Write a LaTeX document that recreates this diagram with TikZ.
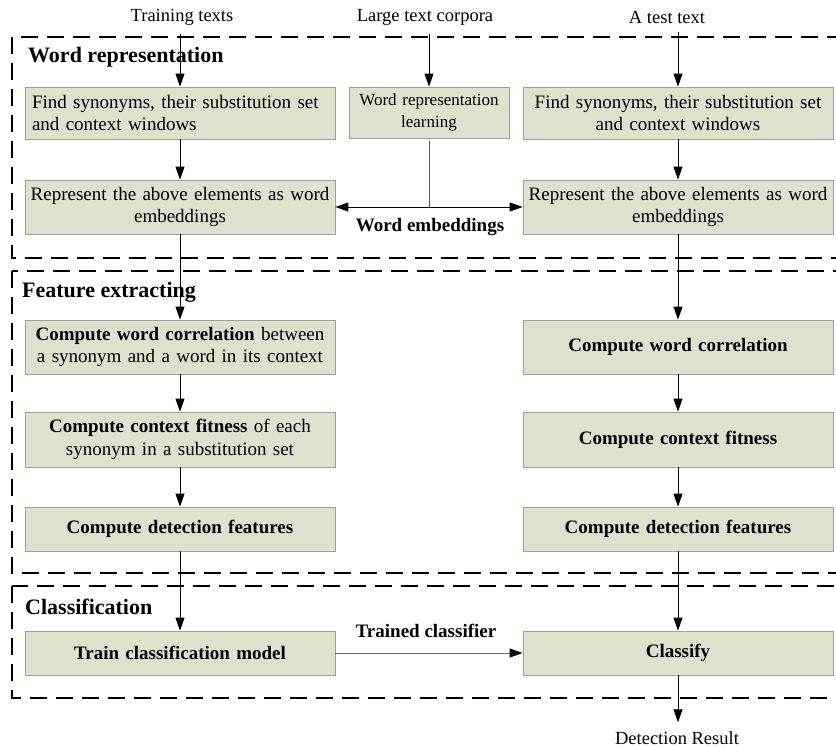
\documentclass[tikz,border=0pt]{standalone}
\usepackage{fontspec}
\setmainfont{Liberation Serif}
\usetikzlibrary{arrows.meta}
\definecolor{boxfill}{RGB}{222,225,205}
\definecolor{boxline}{RGB}{160,160,150}
\begin{document}
\begin{tikzpicture}[x=1pt,y=-1pt,
  box/.style={draw=boxline, line width=0.8pt, fill=boxfill, text width=300pt, inner xsep=5pt, inner ysep=0pt,
    font=\fontsize{19}{22.5}\selectfont, align=center},
  arr/.style={-{Triangle[length=13pt,width=9pt,color=black]}, line width=0.9pt},
  sect/.style={draw, line width=2.4pt, dash pattern=on 17pt off 9pt},
  ttl/.style={font=\fontsize{22}{26}\selectfont\bfseries, anchor=west, inner sep=0pt},
  lbl/.style={font=\fontsize{18.5}{22}\selectfont, inner sep=0pt},
  blbl/.style={font=\fontsize{19}{22}\selectfont\bfseries, inner sep=0pt}]
\clip (0,0) rectangle (836,747);

% dashed section frames
\draw[sect] (12,37) rectangle (870,258);
\draw[sect] (12,271) rectangle (870,573);
\draw[sect] (12,586) rectangle (870,698);

% section titles
\node[ttl] (t1) at (28,57) {Word representation};
\node[ttl] (t2) at (22,292) {Feature extracting};
\node[ttl] (t3) at (25,607) {Classification};

% top inputs
\node[lbl] (tt) at (182,17) {Training texts};
\node[lbl] (ltc) at (425,17) {Large text corpora};
\node[lbl] (tst) at (667,17) {A test text};

% left column
\node[box, text width=296pt, inner xsep=7pt, align=left, minimum height=52pt] (L1) at (180,113) {Find synonyms, their substitution set\\and context windows};
\node[box, minimum height=54pt] (L2) at (180,207) {Represent the above elements as word\\embeddings};
\node[box, minimum height=54pt] (L3) at (180,347) {\textbf{Compute word correlation} between\\a synonym and a word in its context};
\node[box, minimum height=55pt] (L4) at (180,439.5) {\textbf{Compute context fitness} of each\\synonym in a substitution set};
\node[box, minimum height=44pt] (L5) at (180,529) {\textbf{Compute detection features}};
\node[box, minimum height=44pt] (L6) at (180,653) {\textbf{Train classification model}};

% middle
\node[box, text width=150pt, minimum height=51pt, font=\fontsize{17}{22}\selectfont] (M1) at (429,112.5) {Word representation\\learning};

% right column
\node[box, minimum height=52pt] (R1) at (678,113) {Find synonyms, their substitution set\\and context windows};
\node[box, minimum height=54pt] (R2) at (678,207) {Represent the above elements as word\\embeddings};
\node[box, minimum height=54pt] (R3) at (678,347) {\textbf{Compute word correlation}};
\node[box, minimum height=55pt] (R4) at (678,439.5) {\textbf{Compute context fitness}};
\node[box, minimum height=44pt] (R5) at (678,529) {\textbf{Compute detection features}};
\node[box, minimum height=44pt] (R6) at (678,653) {\textbf{Classify}};

\node[lbl] (dr) at (677,738) {Detection Result};

% labels on connectors
\node[blbl] (we-l) at (430,227) {Word embeddings};
\node[blbl] (tc-l) at (426,631) {Trained classifier};

% input arrows
\draw[arr, shorten <=9pt] (tt.south -| L1.north) -- (L1.north);
\draw[arr, shorten <=9pt] (ltc.south -| M1.north) -- (M1.north);
\draw[arr, shorten <=9pt] (tst.south -| R1.north) -- (R1.north);

% left chain
\draw[arr] (L1) -- (L2);
\draw[arr] (L2) -- (L3);
\draw[arr] (L3) -- (L4);
\draw[arr] (L4) -- (L5);
\draw[arr] (L5) -- (L6);

% right chain
\draw[arr] (R1) -- (R2);
\draw[arr] (R2) -- (R3);
\draw[arr] (R3) -- (R4);
\draw[arr] (R4) -- (R5);
\draw[arr] (R5) -- (R6);
\draw[arr, shorten >=9pt] (R6.south) -- (R6.south |- dr.north);

% word embeddings
\coordinate (we) at (M1.south |- L2.east);
\draw[line width=0.9pt, black!65, shorten <=3pt] (M1.south) -- (we);
\draw[arr] (we) -- (L2.east);
\draw[arr] (we) -- (R2.west);

% trained classifier
\draw[arr, draw=black!60] (L6) -- (R6);
\end{tikzpicture}
\end{document}
